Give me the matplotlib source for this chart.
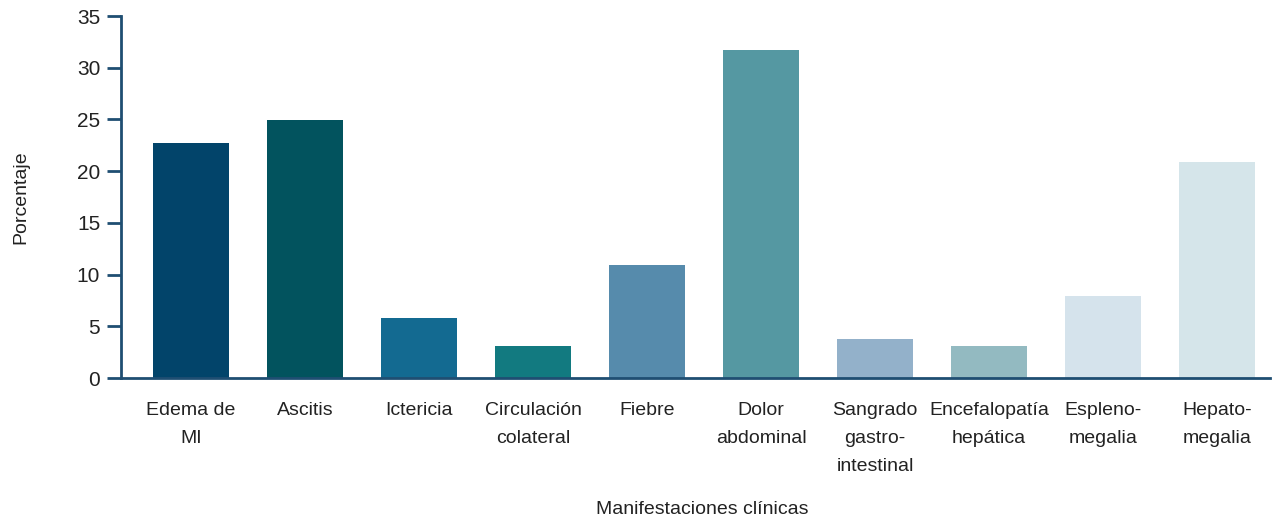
import numpy as np
import matplotlib.pyplot as plt

plt.rcParams['font.family'] = ['Liberation Sans', 'DejaVu Sans']

# data
categorias = ["Edema de\nMI", "Ascitis", "Ictericia", "Circulación\ncolateral", "Fiebre",
              "Dolor\nabdominal", "Sangrado\ngastro-\nintestinal", "Encefalopatía\nhepática",
              "Espleno-\nmegalia", "Hepato-\nmegalia"]
porcentaje = [22.7, 24.9, 5.8, 3.1, 10.9, 31.7, 3.8, 3.1, 7.9, 20.9]
colores = ["#02446a", "#02535e", "#136a91", "#127a80", "#568bac",
           "#5598a2", "#93b1ca", "#93bac1", "#d5e3ec", "#d5e5ea"]
yticks = [0, 5, 10, 15, 20, 25, 30, 35]

axis_col = "#1f4e72"
text_col = "#222222"

fig = plt.figure(figsize=(12.72, 5.23), dpi=100)
ax = fig.add_axes([121 / 1272, 1 - 378 / 523, (1270 - 121) / 1272, (378 - 16) / 523])

x = np.arange(len(categorias))
ax.bar(x, porcentaje, width=0.667, color=colores)

ax.set_xlim(-0.614, 9.465)
ax.set_ylim(0, 35)
ax.set_yticks(yticks)
ax.set_xticks(x)
ax.set_xticklabels(categorias, fontsize=14, color=text_col, linespacing=1.85, va="top")
ax.tick_params(axis="y", labelsize=15, labelcolor=text_col, color=axis_col,
               width=2, length=10, pad=5)
ax.tick_params(axis="x", length=0, pad=17)

for s in ["top", "right"]:
    ax.spines[s].set_visible(False)
for s in ["left", "bottom"]:
    ax.spines[s].set_color(axis_col)
    ax.spines[s].set_linewidth(2)

ax.set_ylabel("Porcentaje", fontsize=14, color=text_col, labelpad=34)
fig.text(0.552, 0.025, "Manifestaciones clínicas", fontsize=14, color=text_col,
         ha="center", va="center")

fig.savefig("out.png", dpi=100)
